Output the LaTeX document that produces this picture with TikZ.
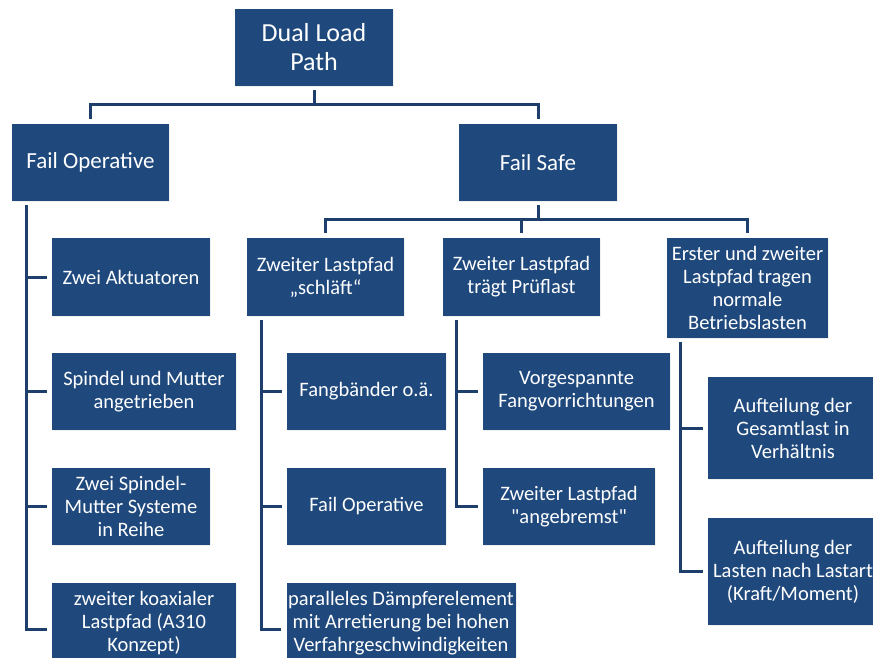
\documentclass[tikz,border=0pt]{standalone}
\usepackage{fontspec}
\setmainfont{Carlito}[Ligatures=TeXOff]
\usetikzlibrary{shadows}
\definecolor{boxblue}{RGB}{31,73,125}
\definecolor{lineblue}{RGB}{30,62,108}

\begin{document}
\begin{tikzpicture}[x=1pt,y=-1pt,
  box/.style={fill=boxblue,text=white,align=center,inner sep=1pt,
    font=\fontsize{20.5}{23}\selectfont,
    drop shadow={opacity=.12,shadow xshift=1pt,shadow yshift=-1pt}},
  cutbox/.style={box,minimum height=92,text depth=15pt},
  link/.style={draw=lineblue,line width=3pt,shorten <=4pt,shorten >=5pt}]
\useasboundingbox[fill=white] (0,0) rectangle (873,657);
\node[box,minimum width=158,minimum height=77,font=\fontsize{26}{29}\selectfont] (root) at (314,47.5) {Dual Load\\Path};
\node[box,minimum width=157,minimum height=77,font=\fontsize{23}{26}\selectfont] (failop) at (90.5,162.5) {Fail Operative};
\node[box,minimum width=158,minimum height=77,font=\fontsize{23}{26}\selectfont] (failsafe) at (538,162.5) {Fail Safe};

\node[box,minimum width=158,minimum height=78] (a1) at (131,277) {Zwei Aktuatoren};
\node[box,minimum width=184,minimum height=77] (a2) at (144,391.5) {Spindel und Mutter\\angetrieben};
\node[box,minimum width=158,minimum height=77] (a3) at (131,506.5) {Zwei Spindel-\\Mutter Systeme\\in Reihe};
\node[cutbox,minimum width=184] (a4) at (144,629) {zweiter koaxialer\\Lastpfad (A310\\Konzept)};

\node[box,minimum width=157,minimum height=78] (sleep) at (325.5,277) {Zweiter Lastpfad\\„schläft“};
\node[box,minimum width=157,minimum height=78] (proof) at (521.5,277) {Zweiter Lastpfad\\trägt Prüflast};
\node[box,minimum width=161,minimum height=100] (both) at (747.5,288) {Erster und zweiter\\Lastpfad tragen\\normale\\Betriebslasten};

\node[box,minimum width=159,minimum height=77] (sleep1) at (366.5,391.5) {Fangbänder o.ä.};
\node[box,minimum width=159,minimum height=77] (sleep2) at (366.5,506.5) {Fail Operative};
\node[cutbox,minimum width=229] (sleep3) at (401,629) {paralleles Dämpferelement\\mit Arretierung bei hohen\\Verfahrgeschwindigkeiten};

\node[box,minimum width=187,minimum height=77] (proof1) at (576.5,391.5) {Vorgespannte\\Fangvorrichtungen};
\node[box,minimum width=172,minimum height=77] (proof2) at (569,506.5) {Zweiter Lastpfad\\"angebremst"};

\node[box,minimum width=170,minimum height=102] (both1) at (793,428) {Aufteilung der\\Gesamtlast in\\Verhältnis};
\node[box,minimum width=170,minimum height=107] (both2) at (793,571.5) {Aufteilung der\\Lasten nach Lastart\\(Kraft/Moment)};

\foreach \n in {failop,failsafe}
\draw[link] (root.south) -- ++(0,18) -| (\n.north);
\foreach \n in {sleep,proof,both}
\draw[link] (failsafe.south) -- ++(0,18) -| (\n.north);
\foreach \n in {a1,a2,a3,a4}
\draw[link] ([xshift=15pt]failop.south west) |- (\n.west);
\foreach \n in {sleep1,sleep2,sleep3}
\draw[link] ([xshift=15pt]sleep.south west) |- (\n.west);
\foreach \n in {proof1,proof2}
\draw[link] ([xshift=14pt]proof.south west) |- (\n.west);
\foreach \n in {both1,both2}
\draw[link] ([xshift=14pt]both.south west) |- (\n.west);
\end{tikzpicture}
\end{document}
